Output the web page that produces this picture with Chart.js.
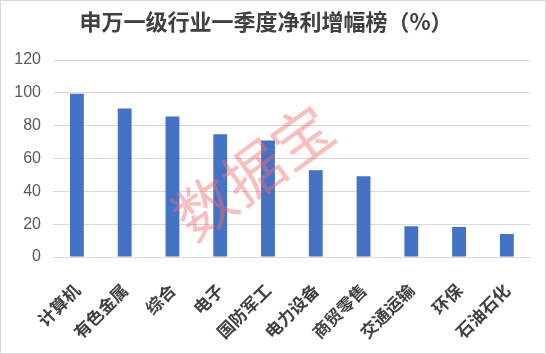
<!DOCTYPE html>
<html>
<head>
<meta charset="utf-8">
<script src="https://cdn.jsdelivr.net/npm/chart.js@4/dist/chart.umd.min.js"></script>
<style>
  html, body { margin: 0; padding: 0; background: #fff; }
  .box { width: 546px; height: 354px; box-sizing: border-box; border: 1px solid #d9d9d9; }
  canvas { display: block; }
</style>
</head>
<body>
<div class="box"><canvas id="c" width="544" height="352"></canvas></div>
<script>
const categories = ['计算机', '有色金属', '综合', '电子', '国防军工', '电力设备', '商贸零售', '交通运输', '环保', '石油石化'];
const growth = [99.5, 90.5, 85.6, 74.7, 71, 52.8, 49.2, 18.8, 18.2, 14];
const yTicks = [0, 20, 40, 60, 80, 100, 120];
const titleText = '申万一级行业一季度净利增幅榜（%）';
const watermarkText = '数据宝';

// watermark drawn on top of the bars
const watermark = {
  id: 'watermark',
  afterDraw(chart) {
    const ctx = chart.ctx;
    ctx.save();
    ctx.translate(252, 171);
    ctx.rotate(-36 * Math.PI / 180);
    ctx.font = '60px "Noto Sans CJK SC"';
    ctx.fillStyle = 'rgba(242, 110, 110, 0.45)';
    ctx.textAlign = 'center';
    ctx.textBaseline = 'middle';
    ctx.fillText(watermarkText, 0, 0);
    ctx.restore();
  }
};

new Chart(document.getElementById('c'), {
  type: 'bar',
  data: {
    labels: categories,
    datasets: [{
      data: growth,
      backgroundColor: '#4472C4',
      categoryPercentage: 1,
      barPercentage: 0.29
    }]
  },
  options: {
    responsive: false,
    animation: false,
    layout: { padding: { right: 14 } },
    plugins: {
      legend: { display: false },
      tooltip: { enabled: false },
      title: {
        display: true,
        text: titleText,
        color: '#404040',
        font: { family: '"Noto Sans CJK SC"', size: 22, weight: 'bold' },
        padding: { top: 7, bottom: 25.6 }
      }
    },
    scales: {
      x: {
        grid: { display: false, drawTicks: false },
        border: { color: '#d9d9d9' },
        ticks: {
          minRotation: 45,
          maxRotation: 45,
          padding: 23,
          color: '#404040',
          font: { family: '"Noto Sans CJK SC"', size: 17, weight: 'bold' }
        },
        afterFit(scale) { scale.height = 96; }
      },
      y: {
        min: 0,
        max: 120,
        afterBuildTicks(scale) { scale.ticks = yTicks.map(v => ({ value: v })); },
        grid: { color: '#d9d9d9', drawTicks: false },
        border: { display: false },
        ticks: {
          padding: 12,
          color: '#595959',
          font: { family: '"Liberation Sans"', size: 16 }
        },
        afterFit(scale) { scale.width = 52; }
      }
    }
  },
  plugins: [watermark]
});
</script>
</body>
</html>
